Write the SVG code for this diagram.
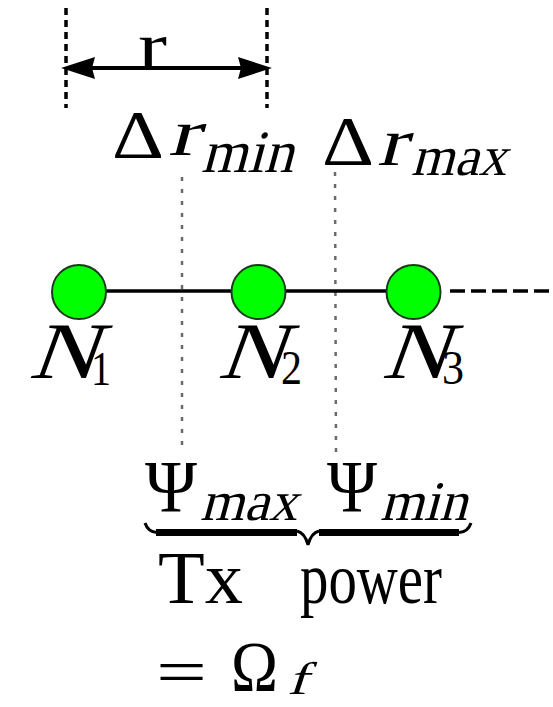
<svg xmlns="http://www.w3.org/2000/svg" width="553" height="707" viewBox="0 0 553 707">
<style>
.t{font-family:"Liberation Serif","Times New Roman",serif;fill:#000}
.node{fill:#00ff00;stroke:#1a3a1a;stroke-width:2}
.edge{stroke:#000;stroke-width:3.5;fill:none}
.guide{stroke:#000;stroke-width:3.5;stroke-dasharray:7 5;fill:none}
.dot{stroke:#6a6a6a;stroke-width:2.5;stroke-dasharray:4 8;fill:none}
</style>
<defs>
<marker id="arr" viewBox="0 0 34 22" refX="22" refY="11" markerWidth="34" markerHeight="22" markerUnits="userSpaceOnUse" orient="auto-start-reverse">
<path d="M0,0 L34,11 L0,22 L3,11 Z" fill="#000"/>
</marker>
</defs>
<rect width="553" height="707" fill="#fff"/>
<g id="dimension-r">
<line class="guide" x1="66" y1="8" x2="66" y2="108"/>
<line class="guide" x1="267" y1="8" x2="267" y2="108"/>
<line x1="73" y1="68" x2="260" y2="68" stroke="#000" stroke-width="4" marker-start="url(#arr)" marker-end="url(#arr)"/>
<text class="t" x="138" y="69" font-size="68" textLength="29" lengthAdjust="spacingAndGlyphs">r</text>
</g>
<g id="delta-r-min">
<text class="t" x="112" y="157" font-size="68" textLength="52" lengthAdjust="spacingAndGlyphs">Δ</text>
<text class="t" transform="translate(168,155) skewX(-15)" font-size="66" textLength="31" lengthAdjust="spacingAndGlyphs">r</text>
<text class="t" transform="translate(201,172) skewX(-15)" font-size="60" textLength="92" lengthAdjust="spacingAndGlyphs">min</text>
<line class="dot" x1="182" y1="177" x2="182" y2="445"/>
</g>
<g id="delta-r-max">
<text class="t" x="322" y="165" font-size="70" textLength="52" lengthAdjust="spacingAndGlyphs">Δ</text>
<text class="t" transform="translate(377,165) skewX(-15)" font-size="68" textLength="29" lengthAdjust="spacingAndGlyphs">r</text>
<text class="t" transform="translate(411,175) skewX(-15)" font-size="56" textLength="95" lengthAdjust="spacingAndGlyphs">max</text>
<line class="dot" x1="335" y1="172" x2="336" y2="452"/>
</g>
<g id="connectors">
<line class="edge" x1="79" y1="291" x2="413" y2="291"/>
<line class="edge" x1="450" y1="291" x2="553" y2="291" stroke-dasharray="15 6"/>
</g>
<g id="n1">
<circle class="node" cx="79" cy="292" r="27"/>
<text class="t" transform="translate(28,378) skewX(-20)" font-size="80" textLength="68" lengthAdjust="spacingAndGlyphs">N</text>
<text class="t" x="91" y="385" font-size="49" textLength="20" lengthAdjust="spacingAndGlyphs">1</text>
</g>
<g id="n2">
<circle class="node" cx="258.5" cy="292" r="27"/>
<text class="t" transform="translate(217,378) skewX(-20)" font-size="80" textLength="66" lengthAdjust="spacingAndGlyphs">N</text>
<text class="t" x="281" y="384" font-size="49" textLength="21" lengthAdjust="spacingAndGlyphs">2</text>
</g>
<g id="n3">
<circle class="node" cx="413.5" cy="292" r="27"/>
<text class="t" transform="translate(381,378) skewX(-20)" font-size="80" textLength="66" lengthAdjust="spacingAndGlyphs">N</text>
<text class="t" x="442" y="384" font-size="49" textLength="22" lengthAdjust="spacingAndGlyphs">3</text>
</g>
<g id="psi-labels">
<text class="t" x="145" y="512" font-size="74" textLength="52" lengthAdjust="spacingAndGlyphs">Ψ</text>
<text class="t" transform="translate(200,520) skewX(-15)" font-size="56" textLength="97" lengthAdjust="spacingAndGlyphs">max</text>
<text class="t" x="327" y="512" font-size="74" textLength="50" lengthAdjust="spacingAndGlyphs">Ψ</text>
<text class="t" transform="translate(380,520) skewX(-15)" font-size="56" textLength="87" lengthAdjust="spacingAndGlyphs">min</text>
</g>
<g id="underbrace" fill="none" stroke="#000">
<path d="M156,532.5 H297 M319,532.5 H459" stroke-width="7"/>
<path d="M145,523 Q148,532 157,532.5 M297,531 Q305,533 308,545 Q311,533 319,531 M459,532.5 Q468,532 471,523" stroke-width="3"/>
</g>
<g id="tx-power">
<text class="t" x="158" y="603" font-size="74" textLength="85" lengthAdjust="spacingAndGlyphs">Tx</text>
<text class="t" x="300" y="603" font-size="72" textLength="142" lengthAdjust="spacingAndGlyphs">power</text>
<text class="t" x="156" y="693" font-size="64" textLength="51" lengthAdjust="spacingAndGlyphs">=</text>
<text class="t" x="231" y="691" font-size="72" textLength="47" lengthAdjust="spacingAndGlyphs">Ω</text>
<text class="t" transform="translate(287,694) skewX(-18)" font-size="46" textLength="20" lengthAdjust="spacingAndGlyphs">f</text>
</g>
</svg>
